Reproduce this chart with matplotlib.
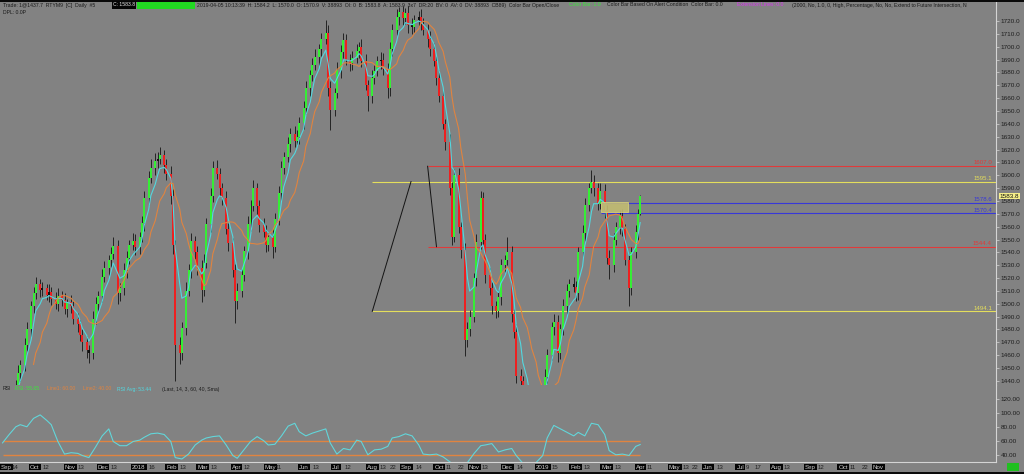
import numpy as np
import pandas as pd
import matplotlib
matplotlib.use("Agg")
import matplotlib.pyplot as plt
import matplotlib.dates as mdates
from matplotlib.patches import Rectangle
from matplotlib.ticker import FormatStrFormatter
from matplotlib.transforms import blended_transform_factory

plt.rcParams["font.family"] = ["Liberation Sans", "DejaVu Sans"]

# ---- data (2-day candles, RTYM9 daily) ----
last_date = "2019-04-05"

closes = [
    1418, 1420, 1424, 1430, 1437, 1446, 1452, 1468, 1480, 1498,
    1508, 1515, 1511, 1512, 1507, 1509, 1504, 1500, 1506, 1503,
    1496, 1501, 1498, 1488, 1484, 1476, 1470, 1464, 1462, 1488,
    1500, 1506, 1521, 1528, 1534, 1539, 1545, 1508, 1512, 1526,
    1536, 1546, 1549, 1544, 1552, 1563, 1582, 1598, 1606, 1611,
    1613, 1616, 1608, 1601, 1584, 1546, 1468, 1462, 1481, 1510,
    1526, 1549, 1540, 1528, 1511, 1532, 1562, 1584, 1606, 1601,
    1590, 1582, 1558, 1547, 1526, 1502, 1510, 1522, 1541, 1562,
    1576, 1590, 1576, 1561, 1556, 1546, 1552, 1544, 1566, 1586,
    1606, 1614, 1624, 1632, 1627, 1630, 1641, 1652, 1668, 1678,
    1686, 1692, 1698, 1706, 1711, 1668, 1651, 1664, 1682, 1696,
    1705, 1690, 1687, 1691, 1697, 1700, 1689, 1670, 1662, 1676,
    1681, 1689, 1690, 1683, 1668, 1698, 1713, 1723, 1727, 1722,
    1726, 1717, 1715, 1721, 1723, 1718, 1713, 1706, 1698, 1689,
    1676, 1662, 1640, 1626, 1590, 1552, 1600, 1560, 1542, 1472,
    1480, 1490, 1520, 1548, 1582, 1550, 1522, 1512, 1498, 1494,
    1505, 1530, 1534, 1540, 1492, 1478, 1444, 1440, 1425, 1416,
    1410, 1408, 1415, 1420, 1428, 1443, 1460, 1482, 1486, 1462,
    1480, 1498, 1510, 1515, 1513, 1508, 1540, 1555, 1577, 1590,
    1595, 1590, 1578, 1588, 1573, 1536, 1530, 1550, 1560, 1568,
    1558, 1534, 1512, 1540, 1556, 1570, 1583.8,
]

wick_hi = [
    3, 4, 3, 5, 4, 6, 4, 5, 6, 4,
    5, 6, 4, 5, 3, 6, 4, 5, 6, 4,
    5, 3, 6, 4, 5, 3, 4, 5, 4, 6,
    5, 4, 6, 5, 4, 5, 7, 5, 4, 6,
    5, 4, 6, 5, 4, 5, 6, 5, 7, 6,
    5, 6, 4, 5, 6, 5, 4, 6, 5, 7,
    5, 6, 4, 5, 6, 7, 5, 6, 5, 6,
    5, 4, 6, 5, 4, 5, 6, 5, 4, 6,
    5, 6, 4, 5, 6, 5, 4, 6, 5, 6,
    5, 4, 6, 5, 6, 5, 4, 6, 5, 4,
    5, 6, 4, 5, 10, 6, 5, 4, 6, 5,
    6, 5, 4, 6, 5, 4, 6, 5, 4, 6,
    5, 4, 6, 5, 4, 6, 5, 6, 4, 5,
    4, 6, 5, 4, 5, 6, 4, 5, 6, 5,
    4, 6, 5, 4, 6, 5, 5, 6, 4, 5,
    6, 5, 4, 6, 6, 5, 4, 6, 5, 4,
    6, 5, 4, 12, 5, 4, 6, 5, 4, 6,
    5, 4, 6, 5, 4, 6, 5, 4, 6, 5,
    4, 6, 5, 4, 6, 5, 4, 6, 5, 4,
    9, 5, 4, 6, 5, 4, 6, 5, 4, 5,
    6, 4, 5, 4, 5, 4, 1,
]

wick_lo = [
    4, 5, 3, 6, 4, 5, 6, 4, 5, 6,
    5, 4, 6, 5, 4, 6, 5, 4, 6, 5,
    4, 6, 5, 4, 6, 5, 7, 6, 8, 5,
    4, 6, 5, 4, 6, 5, 4, 8, 6, 5,
    6, 5, 4, 6, 5, 4, 6, 5, 4, 6,
    5, 4, 6, 5, 6, 7, 28, 9, 6, 5,
    4, 6, 5, 6, 10, 5, 4, 6, 5, 4,
    6, 5, 4, 6, 5, 17, 6, 5, 4, 6,
    5, 4, 6, 5, 4, 6, 5, 8, 4, 5,
    6, 5, 4, 6, 5, 4, 6, 5, 4, 6,
    5, 4, 6, 5, 4, 6, 16, 5, 4, 6,
    5, 4, 6, 5, 4, 6, 5, 4, 12, 6,
    5, 4, 6, 5, 8, 6, 5, 4, 6, 5,
    4, 6, 5, 4, 6, 5, 4, 6, 5, 4,
    6, 5, 4, 6, 5, 6, 4, 5, 6, 13,
    6, 5, 4, 6, 5, 4, 6, 5, 6, 5,
    4, 6, 5, 4, 6, 5, 6, 4, 5, 6,
    5, 4, 6, 5, 4, 6, 5, 4, 6, 7,
    5, 4, 6, 5, 4, 6, 5, 4, 6, 5,
    4, 6, 5, 4, 6, 5, 11, 5, 4, 6,
    5, 4, 14, 5, 4, 6, 1,
]

# RSI smoothed line, one value every second candle
rsi_vals = [
    58, 70, 81, 84, 81, 93, 98, 90, 84, 60,
    42, 44, 43, 40, 37, 52, 68, 78, 60, 54,
    54, 60, 62, 66, 71, 72, 70, 60, 37, 35,
    42, 55, 62, 65, 67, 68, 55, 40, 36, 48,
    60, 67, 61, 55, 56, 68, 82, 86, 74, 68,
    72, 75, 78, 58, 42, 50, 48, 62, 60, 41,
    48, 49, 53, 65, 67, 71, 68, 55, 42, 41,
    42, 38, 31, 27, 25, 30, 43, 54, 55, 57,
    45, 48, 50, 40, 29, 25, 30, 40, 65, 83,
    78, 73, 68, 73, 68, 86, 84, 70, 47, 41,
    42, 40, 53, 55.6,
]
rsi_levels = [60, 40]

level_prices = [1607.0, 1595.1, 1578.6, 1570.4, 1544.4, 1494.1]
level_labels = ["1607.0", "1595.1", "1578.6", "1570.4", "1544.4", "1494.1"]
level_starts = ["2018-09-25", "2018-08-06", "2019-03-01", "2019-03-01", "2018-09-25", "2018-08-06"]
level_colors = ["#e03a3a", "#e4de5c", "#3838d8", "#3838d8", "#e03a3a", "#e4de5c"]

fib_a_dates = ["2018-08-06", "2018-09-10"]
fib_a_prices = [1494.1, 1595.1]
fib_b_dates = ["2018-09-25", "2018-10-03"]
fib_b_prices = [1607.0, 1544.4]
zone_dates = ["2019-03-01", "2019-03-25"]
zone_prices = [1571.5, 1579.0]

last_price = 1583.8
price_ticks = list(range(1440, 1721, 10))
rsi_ticks = [40, 60, 80, 100, 120]

tick_texts = ["Sep", "14", "Oct", "12", "Nov", "13", "Dec", "13", "2018", "16",
              "Feb", "13", "Mar", "13", "Apr", "12", "May", "11", "Jun", "13",
              "Jul", "12", "Aug", "13", "22", "Sep", "14", "Oct", "11", "22",
              "Nov", "13", "Dec", "14", "2019", "15", "Feb", "13", "Mar", "13",
              "Apr", "11", "May", "13", "22", "Jun", "13", "Jul", "9", "17",
              "Aug", "13", "Sep", "12", "Oct", "11", "22", "Nov"]
tick_dates = ["2017-09-01", "2017-09-14", "2017-10-01", "2017-10-12", "2017-11-01",
              "2017-11-13", "2017-12-01", "2017-12-13", "2018-01-01", "2018-01-16",
              "2018-02-01", "2018-02-13", "2018-03-01", "2018-03-13", "2018-04-01",
              "2018-04-12", "2018-05-01", "2018-05-11", "2018-06-01", "2018-06-13",
              "2018-07-01", "2018-07-12", "2018-08-01", "2018-08-13", "2018-08-22",
              "2018-09-01", "2018-09-14", "2018-10-01", "2018-10-11", "2018-10-22",
              "2018-11-01", "2018-11-13", "2018-12-01", "2018-12-14", "2019-01-01",
              "2019-01-15", "2019-02-01", "2019-02-13", "2019-03-01", "2019-03-13",
              "2019-04-01", "2019-04-11", "2019-05-01", "2019-05-13", "2019-05-22",
              "2019-06-01", "2019-06-13", "2019-07-01", "2019-07-09", "2019-07-17",
              "2019-08-01", "2019-08-13", "2019-09-01", "2019-09-12", "2019-10-01",
              "2019-10-11", "2019-10-22", "2019-11-01"]

# ---- layout ----
W, H = 1024, 474
BG = "#828282"
GREEN, RED = "#35ee35", "#ee2020"
CYAN, ORANGE = "#52d8e0", "#e08440"


def box(l, t, r, b):
    return [l / W, 1 - b / H, (r - l) / W, (b - t) / H]


def ftext(x, y, s, **kw):
    return fig.text(x / W, 1 - y / H, s, va="center", ha="left", **kw)


fig = plt.figure(figsize=(W / 100, H / 100), dpi=100)
fig.patch.set_facecolor(BG)
ax = fig.add_axes(box(0, 2, 996, 385))
ax_r = fig.add_axes(box(0, 385, 996, 462), sharex=ax)

px_per_day = 1.107
x0 = mdates.date2num(pd.Timestamp("2017-09-01")) + 3 / px_per_day
x1 = x0 + 996 / px_per_day

for a in (ax, ax_r):
    a.set_facecolor(BG)
    for side in ("top", "left", "bottom"):
        a.spines[side].set_visible(False)
    a.spines["right"].set_color("#d4d4d4")
    a.spines["right"].set_linewidth(0.8)
    a.yaxis.tick_right()
    a.tick_params(axis="y", labelsize=4.6, labelcolor="#1e1e1e", color="#d4d4d4",
                  length=2, width=0.5, pad=1.5)
    a.tick_params(axis="x", bottom=False, labelbottom=False)
ax_r.spines["bottom"].set_visible(True)
ax_r.spines["bottom"].set_color("#d4d4d4")
ax_r.spines["bottom"].set_linewidth(0.8)

n = len(closes)
dates = pd.bdate_range(end=last_date, periods=2 * n - 1)[::2]
xd = mdates.date2num(dates)
c = np.array(closes, dtype=float)
o = np.r_[c[0] - 2, c[:-1]]
hi = np.maximum(o, c) + np.array(wick_hi)
lo = np.minimum(o, c) - np.array(wick_lo)
colors = np.where(np.abs(c - o) < 3, "#111111", np.where(c > o, GREEN, RED))
body = np.maximum(np.abs(c - o), 0.8)

# levels and drawing tools
for p, lab, st, col in zip(level_prices, level_labels, level_starts, level_colors):
    ax.hlines(p, mdates.date2num(pd.Timestamp(st)), x1, color=col, lw=0.8, zorder=1)
    ax.text(0.996, p + 0.6, lab, transform=blended_transform_factory(ax.transAxes, ax.transData),
            ha="right", va="bottom", fontsize=4.4, color=col, zorder=6)
ax.plot(mdates.date2num(pd.to_datetime(fib_a_dates)), fib_a_prices, color="#141414", lw=0.7, zorder=1)
ax.plot(mdates.date2num(pd.to_datetime(fib_b_dates)), fib_b_prices, color="#141414", lw=0.7, zorder=1)

# candles
ax.vlines(xd, lo, hi, color="#151515", lw=0.6, zorder=2)
ax.bar(xd, body, bottom=np.minimum(o, c), width=1.8, color=colors, lw=0, zorder=3)

# moving averages
s = pd.Series(c)
ax.plot(xd, s.ewm(span=5, adjust=False).mean(), color=CYAN, lw=0.8, zorder=4)
ax.plot(xd, s.rolling(11).mean(), color=ORANGE, lw=0.8, zorder=4)

zd = mdates.date2num(pd.to_datetime(zone_dates))
ax.add_patch(Rectangle((zd[0], zone_prices[0]), zd[1] - zd[0], zone_prices[1] - zone_prices[0],
                       facecolor="#c2bc72", edgecolor="#d8d27a", lw=0.6, alpha=0.9, zorder=5))

ax.text(1.004, last_price, "%.1f" % last_price,
        transform=blended_transform_factory(ax.transAxes, ax.transData),
        ha="left", va="center", fontsize=4.6, color="#111111", clip_on=False, zorder=10,
        bbox=dict(facecolor="#f6f08a", edgecolor="none", pad=0.6))

ax.set_xlim(x0, x1)
ax.set_ylim(1436.8, 1734.8)
ax.set_yticks(price_ticks)
ax.yaxis.set_major_formatter(FormatStrFormatter("%.1f"))

# RSI panel
ax_r.plot(xd[::2], rsi_vals, color="#62d6da", lw=0.8, zorder=3)
for lv in rsi_levels:
    ax_r.hlines(lv, xd[0], xd[-1], color=ORANGE, lw=1.0, zorder=2)
ax_r.set_ylim(30.7, 140.7)
ax_r.set_yticks(rsi_ticks)
ax_r.yaxis.set_major_formatter(FormatStrFormatter("%.2f"))
ax_r.set_xlim(x0, x1)

rt = blended_transform_factory(ax_r.transAxes, ax_r.transAxes)
ry = (462 - 389) / 77
for xp, txt, col in [(3, "RSI", "#1e1e1e"), (15, "RSI: 55.65", "#3ae83a"),
                     (47, "Line1: 60.00", ORANGE), (83, "Line2: 40.00", ORANGE),
                     (117, "RSI Avg: 53.44", CYAN), (162, "(Last, 14, 3, 60, 40, Sma)", "#1e1e1e")]:
    ax_r.text(xp / 996, ry, txt, transform=rt, fontsize=3.7, color=col, va="center", ha="left")

# date labels under the panels
tt = blended_transform_factory(ax_r.transData, ax_r.transAxes)
for txt, d in zip(tick_texts, tick_dates):
    is_month = not txt.isdigit() or len(txt) == 4
    xpos = max(mdates.date2num(pd.Timestamp(d)), x0 + 1)
    ax_r.text(xpos, -0.065, txt, transform=tt, ha="left", va="center",
              fontsize=4.4, color="#d2d2d2" if is_month else "#1e1e1e", clip_on=False,
              bbox=dict(facecolor="#050505", edgecolor="none", pad=0.7) if is_month else None)

# header lines
ftext(3, 5, "Trade: 1@1437.7  RTYM9  [C]  Daily  #5", fontsize=3.7, color="#1a1a1a")
ftext(113, 5, "C: 1583.8", fontsize=3.7, color="#e8e8e8",
      bbox=dict(facecolor="#050505", edgecolor="none", pad=0.8))
fig.patches.append(Rectangle((137 / W, 1 - 9 / H), 58 / W, 7 / H, transform=fig.transFigure,
                             facecolor="#22d822", edgecolor="none"))
ftext(197, 5, "2019-04-05 10:13:39  H: 1584.2  L: 1570.0  O: 1570.9  V: 38893  OI: 0  B: 1583.8  "
      "A: 1583.9  3x7  DR:20  BV: 0  AV: 0  DV: 38893  CB89)  Color Bar Open/Close",
      fontsize=3.7, color="#1a1a1a")
ftext(569, 5, "Color Bar: 1.0", fontsize=3.7, color="#3ae83a")
ftext(607, 5, "Color Bar Based On Alert Condition  Color Bar: 0.0", fontsize=3.7, color="#1a1a1a")
ftext(737, 5, "Extension Lines: 0.0", fontsize=3.7, color="#d838f0")
ftext(792, 5, "(2000, No, 1.0, 0, High, Percentage, No, No, Extend to Future Intersection, N",
      fontsize=3.7, color="#1a1a1a")
ftext(3, 13, "DPL: 0.0P", fontsize=3.7, color="#1a1a1a")

# frame bits
fig.patches.append(Rectangle((0, 1 - 1.5 / H), 1, 1.5 / H, transform=fig.transFigure,
                             facecolor="#0a0a0a", edgecolor="none"))
fig.patches.append(Rectangle((0, 0), 1, 2 / H, transform=fig.transFigure,
                             facecolor="#0a0a0a", edgecolor="none"))
fig.patches.append(Rectangle((1007 / W, 1 - 471 / H), 12 / W, 8 / H, transform=fig.transFigure,
                             facecolor="#20c020", edgecolor="none"))

fig.savefig("out.png", dpi=100, facecolor=BG)
